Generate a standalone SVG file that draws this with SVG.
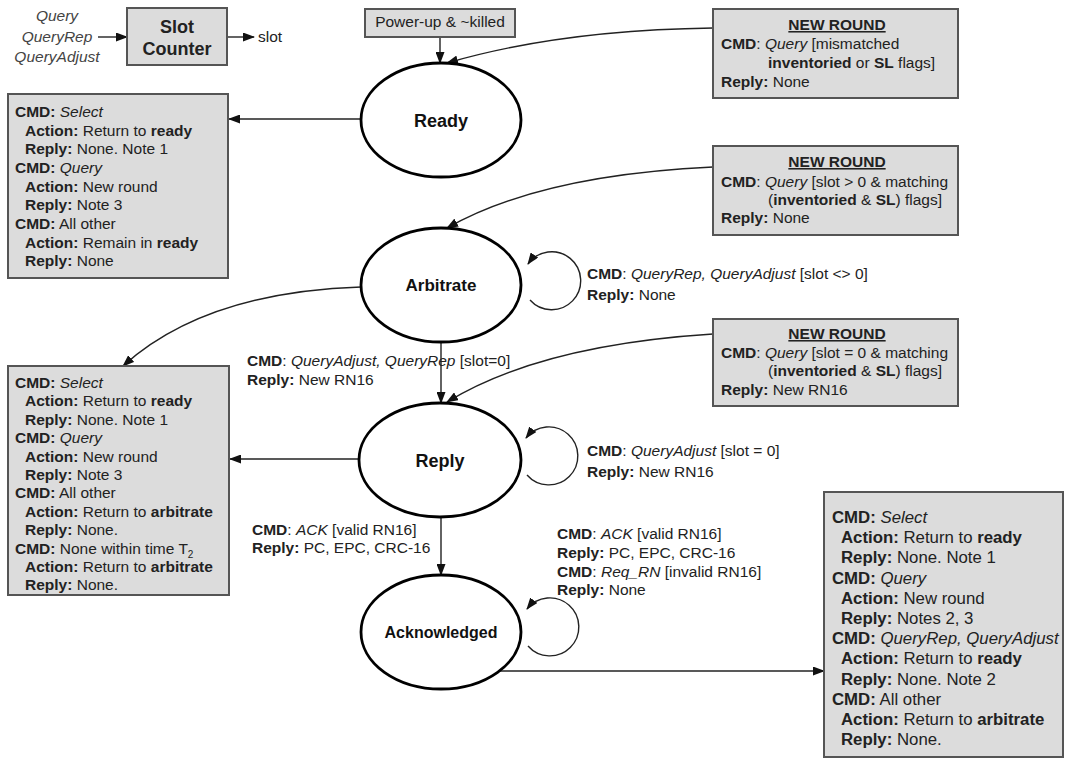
<svg xmlns="http://www.w3.org/2000/svg" width="1075" height="763" viewBox="0 0 1075 763">
<defs>
<style>
text{font-family:"Liberation Sans",Arial,sans-serif;font-size:15.5px;fill:#222}
.b{font-weight:bold}
.i{font-style:italic}
.u{text-decoration:underline}
.m{text-anchor:middle}
.g{fill:#444}
.box{fill:#dcdcdc;stroke:#555;stroke-width:2}
.state{fill:#fff;stroke:#000;stroke-width:2.8}
.st{font-size:18px;font-weight:bold;text-anchor:middle;fill:#111}
.e{fill:none;stroke:#222;stroke-width:1.4;marker-end:url(#ah)}
.big text{font-size:16.8px}
</style>
<marker id="ah" markerUnits="userSpaceOnUse" markerWidth="12" markerHeight="9" refX="11" refY="4.5" orient="auto">
<path d="M0,0 L12,4.5 L0,9 z" fill="#111"/>
</marker>
</defs>
<rect width="1075" height="763" fill="#fff"/>

<g id="connectors">
<path class="e" d="M98,37 L127,37"/>
<path class="e" d="M227,37 L254,37"/>
<path class="e" d="M440,37 L440,63"/>
<path class="e" d="M713,28 Q560,30 447,63"/>
<path class="e" d="M361,119 L229,119"/>
<path class="e" d="M713,167 Q540,175 447,228"/>
<path class="e" d="M530,300 A29,29 0 1 0 528,264"/>
<path class="e" d="M361,287 Q205,292 123,366"/>
<path class="e" d="M441,342 L441,403"/>
<path class="e" d="M713,334 Q540,345 447,402"/>
<path class="e" d="M527,475 A29,29 0 1 0 526,438"/>
<path class="e" d="M358,459 L230,459"/>
<path class="e" d="M441,517 L441,575"/>
<path class="e" d="M528,646 A29,29 0 1 0 527,609"/>
<path class="e" d="M498,671 L824,671"/>
</g>

<g id="slot-inputs">
<text class="i g m" x="57" y="21">Query</text>
<text class="i g m" x="57" y="42">QueryRep</text>
<text class="i g m" x="57" y="62">QueryAdjust</text>
</g>
<g id="slot-counter">
<rect class="box" x="127" y="8" width="100" height="57"/>
<text class="b m" x="177" y="33" style="font-size:18px">Slot</text>
<text class="b m" x="177" y="55" style="font-size:18px">Counter</text>
</g>
<g id="slot-output"><text x="258" y="42">slot</text></g>

<g id="powerup">
<rect class="box" x="365" y="9" width="150" height="28"/>
<text class="m" x="440" y="27">Power-up &amp; ~killed</text>
</g>

<g id="ready"><ellipse class="state" cx="441" cy="120" rx="80" ry="57"/><text class="st" x="441" y="127">Ready</text></g>
<g id="arbitrate"><ellipse class="state" cx="441" cy="285" rx="80" ry="57"/><text class="st" x="441" y="291" style="font-size:17px">Arbitrate</text></g>
<g id="reply"><ellipse class="state" cx="440" cy="460" rx="81" ry="57"/><text class="st" x="440" y="467">Reply</text></g>
<g id="acknowledged"><ellipse class="state" cx="441" cy="632" rx="80" ry="57"/><text class="st" x="441" y="638" style="font-size:16px">Acknowledged</text></g>

<g id="newround-ready">
<rect class="box" x="713" y="9" width="245" height="89"/>
<text class="b u m" x="837" y="30">NEW ROUND</text>
<text x="721" y="49"><tspan class="b">CMD</tspan>: <tspan class="i">Query</tspan> [mismatched</text>
<text x="768" y="68"><tspan class="b">inventoried</tspan> or <tspan class="b">SL</tspan> flags]</text>
<text x="721" y="87"><tspan class="b">Reply:</tspan> None</text>
</g>

<g id="newround-arbitrate">
<rect class="box" x="713" y="146" width="245" height="89"/>
<text class="b u m" x="837" y="167">NEW ROUND</text>
<text x="721" y="187"><tspan class="b">CMD</tspan>: <tspan class="i">Query</tspan> [slot &gt; 0 &amp; matching</text>
<text x="768" y="205">(<tspan class="b">inventoried</tspan> &amp; <tspan class="b">SL</tspan>) flags]</text>
<text x="721" y="223"><tspan class="b">Reply:</tspan> None</text>
</g>

<g id="newround-reply">
<rect class="box" x="713" y="319" width="245" height="87"/>
<text class="b u m" x="837" y="339">NEW ROUND</text>
<text x="721" y="358"><tspan class="b">CMD</tspan>: <tspan class="i">Query</tspan> [slot = 0 &amp; matching</text>
<text x="768" y="376">(<tspan class="b">inventoried</tspan> &amp; <tspan class="b">SL</tspan>) flags]</text>
<text x="721" y="395"><tspan class="b">Reply:</tspan> New RN16</text>
</g>

<g id="ready-actions">
<rect class="box" x="8" y="94" width="220" height="184"/>
<text x="15" y="117"><tspan class="b">CMD:</tspan> <tspan class="i">Select</tspan></text>
<text x="25" y="135.6"><tspan class="b">Action:</tspan> Return to <tspan class="b">ready</tspan></text>
<text x="25" y="154.3"><tspan class="b">Reply:</tspan> None. Note 1</text>
<text x="15" y="173"><tspan class="b">CMD:</tspan> <tspan class="i">Query</tspan></text>
<text x="25" y="191.6"><tspan class="b">Action:</tspan> New round</text>
<text x="25" y="210.3"><tspan class="b">Reply:</tspan> Note 3</text>
<text x="15" y="229"><tspan class="b">CMD:</tspan> All other</text>
<text x="25" y="247.6"><tspan class="b">Action:</tspan> Remain in <tspan class="b">ready</tspan></text>
<text x="25" y="266.3"><tspan class="b">Reply:</tspan> None</text>
</g>

<g id="arbitrate-reply-actions">
<rect class="box" x="8" y="366" width="221" height="229"/>
<text x="15" y="388"><tspan class="b">CMD:</tspan> <tspan class="i">Select</tspan></text>
<text x="25" y="406.4"><tspan class="b">Action:</tspan> Return to <tspan class="b">ready</tspan></text>
<text x="25" y="424.8"><tspan class="b">Reply:</tspan> None. Note 1</text>
<text x="15" y="443.2"><tspan class="b">CMD:</tspan> <tspan class="i">Query</tspan></text>
<text x="25" y="461.6"><tspan class="b">Action:</tspan> New round</text>
<text x="25" y="480"><tspan class="b">Reply:</tspan> Note 3</text>
<text x="15" y="498.4"><tspan class="b">CMD:</tspan> All other</text>
<text x="25" y="516.8"><tspan class="b">Action:</tspan> Return to <tspan class="b">arbitrate</tspan></text>
<text x="25" y="535.2"><tspan class="b">Reply:</tspan> None.</text>
<text x="15" y="553.6"><tspan class="b">CMD:</tspan> None within time T<tspan dy="4" style="font-size:10px">2</tspan></text>
<text x="25" y="572"><tspan class="b">Action:</tspan> Return to <tspan class="b">arbitrate</tspan></text>
<text x="25" y="590.4"><tspan class="b">Reply:</tspan> None.</text>
</g>

<g id="ack-actions" class="big">
<rect class="box" x="824" y="492" width="239" height="265"/>
<text x="832" y="523"><tspan class="b">CMD:</tspan> <tspan class="i">Select</tspan></text>
<text x="841" y="543.2"><tspan class="b">Action:</tspan> Return to <tspan class="b">ready</tspan></text>
<text x="841" y="563.4"><tspan class="b">Reply:</tspan> None. Note 1</text>
<text x="832" y="583.6"><tspan class="b">CMD:</tspan> <tspan class="i">Query</tspan></text>
<text x="841" y="603.8"><tspan class="b">Action:</tspan> New round</text>
<text x="841" y="624"><tspan class="b">Reply:</tspan> Notes 2, 3</text>
<text x="832" y="644.2"><tspan class="b">CMD:</tspan> <tspan class="i">QueryRep, QueryAdjust</tspan></text>
<text x="841" y="664.4"><tspan class="b">Action:</tspan> Return to <tspan class="b">ready</tspan></text>
<text x="841" y="684.6"><tspan class="b">Reply:</tspan> None. Note 2</text>
<text x="832" y="704.8"><tspan class="b">CMD:</tspan> All other</text>
<text x="841" y="725"><tspan class="b">Action:</tspan> Return to <tspan class="b">arbitrate</tspan></text>
<text x="841" y="745.2"><tspan class="b">Reply:</tspan> None.</text>
</g>

<g id="labels">
<text x="587" y="279"><tspan class="b">CMD</tspan>: <tspan class="i">QueryRep, QueryAdjust</tspan> [slot &lt;&gt; 0]</text>
<text x="587" y="300"><tspan class="b">Reply:</tspan> None</text>
<text x="247" y="366"><tspan class="b">CMD</tspan>: <tspan class="i">QueryAdjust, QueryRep</tspan> [slot=0]</text>
<text x="247" y="385"><tspan class="b">Reply:</tspan> New RN16</text>
<text x="587" y="456"><tspan class="b">CMD</tspan>: <tspan class="i">QueryAdjust</tspan> [slot = 0]</text>
<text x="587" y="477"><tspan class="b">Reply:</tspan> New RN16</text>
<text x="252" y="535"><tspan class="b">CMD</tspan>: <tspan class="i">ACK</tspan> [valid RN16]</text>
<text x="252" y="553"><tspan class="b">Reply:</tspan> PC, EPC, CRC-16</text>
<text x="557" y="539"><tspan class="b">CMD</tspan>: <tspan class="i">ACK</tspan> [valid RN16]</text>
<text x="557" y="558"><tspan class="b">Reply:</tspan> PC, EPC, CRC-16</text>
<text x="557" y="577"><tspan class="b">CMD</tspan>: <tspan class="i">Req_RN</tspan> [invalid RN16]</text>
<text x="557" y="595"><tspan class="b">Reply:</tspan> None</text>
</g>
</svg>
